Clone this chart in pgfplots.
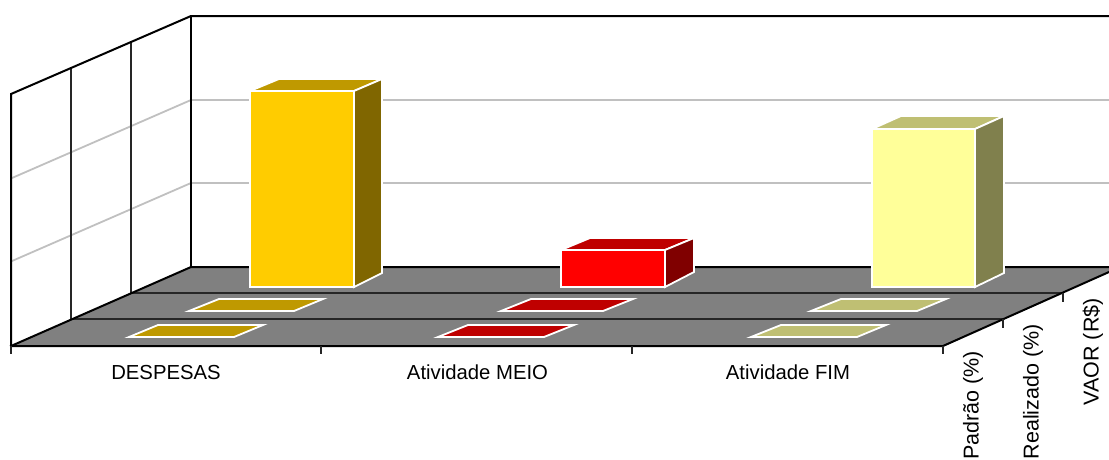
\documentclass[border=0pt]{standalone}
\usepackage{pgfplots}
\pgfplotsset{compat=1.18}
\usepackage{fontspec}
\setmainfont{Liberation Sans}
\definecolor{gridc}{HTML}{C0C0C0}
\definecolor{floorc}{HTML}{808080}
\definecolor{aF}{HTML}{FFCC00}\definecolor{aT}{HTML}{BF9900}\definecolor{aS}{HTML}{806600}
\definecolor{bF}{HTML}{FF0000}\definecolor{bT}{HTML}{BF0000}\definecolor{bS}{HTML}{800000}
\definecolor{cF}{HTML}{FFFF99}\definecolor{cT}{HTML}{BFBF73}\definecolor{cS}{HTML}{80804D}
\tikzset{
  blk/.style={draw=black,line width=2pt,line cap=rect},
  thn/.style={draw=black!85,line width=1.7pt},
  grd/.style={draw=gridc,line width=1.8pt},
  face/.style={fill=#1,draw=white,line width=1.8pt,line join=miter},
  txt/.style={font=\fontsize{20.3}{22}\selectfont,text=black,inner sep=0pt,anchor=base},
  rtxt/.style={font=\fontsize{21.5}{23}\selectfont,text=black,inner sep=0pt,rotate=90,anchor=east}}
\begin{document}
\begin{tikzpicture}
\path[use as bounding box] (0,0) rectangle (1109pt,459pt);
\clip (0,0) rectangle (1109pt,459pt);
\begin{axis}[at={(0,0)},anchor=south west,scale only axis,width=1109pt,height=459pt,
  xmin=0,xmax=1109,ymin=0,ymax=459,y dir=reverse,hide axis,clip=false,
  every axis plot/.append style={no markers,forget plot}]
% floor
\addplot[fill=floorc,draw=none] coordinates {(11,346)(191,267)(1109,267)(1109,272)(943,346)} --cycle;
% gridlines
\addplot[grd] coordinates {(12,178)(191,100)(1109,100)};
\addplot[grd] coordinates {(12,261)(191,183)(1109,183)};
% floor lines
\addplot[thn] coordinates {(131,293)(1063,293)};
\addplot[thn] coordinates {(71,319)(1003,319)};
% wall verticals
\addplot[thn] coordinates {(71,68)(71,319)};
\addplot[thn] coordinates {(131,42)(131,293)};
% outline
\addplot[blk] coordinates {(11,346)(11,94)(191,16)(1109,16)};
\addplot[blk] coordinates {(191,16)(191,267)};
\addplot[blk] coordinates {(11,346)(191,267)(1109,267)};
\addplot[blk] coordinates {(11,346)(943,346)(1109,272)};
% ticks
\addplot[thn] coordinates {(11,346)(11,354)};
\addplot[thn] coordinates {(321,346)(321,354)};
\addplot[thn] coordinates {(632,346)(632,354)};
\addplot[thn] coordinates {(943,346)(943,354)};
\addplot[thn] coordinates {(1003,319)(1003,328)};
\addplot[thn] coordinates {(1063,293)(1063,302)};
% flat bars, front row (Padrao)
\addplot[face=aT] coordinates {(129,337)(234,337)(263,325)(158,325)} --cycle;
\addplot[face=bT] coordinates {(438,337)(544,337)(574,325)(468,325)} --cycle;
\addplot[face=cT] coordinates {(751,337)(857,337)(886,325)(781,325)} --cycle;
% flat bars, middle row (Realizado)
\addplot[face=aT] coordinates {(189,311)(294,311)(323,299)(219,299)} --cycle;
\addplot[face=bT] coordinates {(501,311)(603,311)(633,299)(531,299)} --cycle;
\addplot[face=cT] coordinates {(811,311)(917,311)(946,299)(841,299)} --cycle;
% tall bars, back row (VAOR)
\addplot[face=aT] coordinates {(250,91)(354,91)(382,79)(279,79)} --cycle;
\addplot[face=aS] coordinates {(354,91)(382,79)(382,273)(354,287)} --cycle;
\addplot[face=aF] coordinates {(250,91)(354,91)(354,287)(250,287)} --cycle;
\addplot[face=bT] coordinates {(561,250)(665,250)(694,238)(590,238)} --cycle;
\addplot[face=bS] coordinates {(665,250)(694,238)(694,272)(665,287)} --cycle;
\addplot[face=bF] coordinates {(561,250)(665,250)(665,287)(561,287)} --cycle;
\addplot[face=cT] coordinates {(872,129)(975,129)(1004,116)(901,116)} --cycle;
\addplot[face=cS] coordinates {(975,129)(1004,116)(1004,273)(975,287)} --cycle;
\addplot[face=cF] coordinates {(872,129)(975,129)(975,287)(872,287)} --cycle;
% labels
\node[txt] at (axis cs:166,379) {DESPESAS};
\node[txt] at (axis cs:477.5,379) {Atividade MEIO};
\node[txt] at (axis cs:788,379) {Atividade FIM};
\node[rtxt] at (axis cs:973,351) {Padrão (\%)};
\node[rtxt] at (axis cs:1033,324) {Realizado (\%)};
\node[rtxt] at (axis cs:1093,298) {VAOR (R\$)};
\end{axis}
\end{tikzpicture}
\end{document}
